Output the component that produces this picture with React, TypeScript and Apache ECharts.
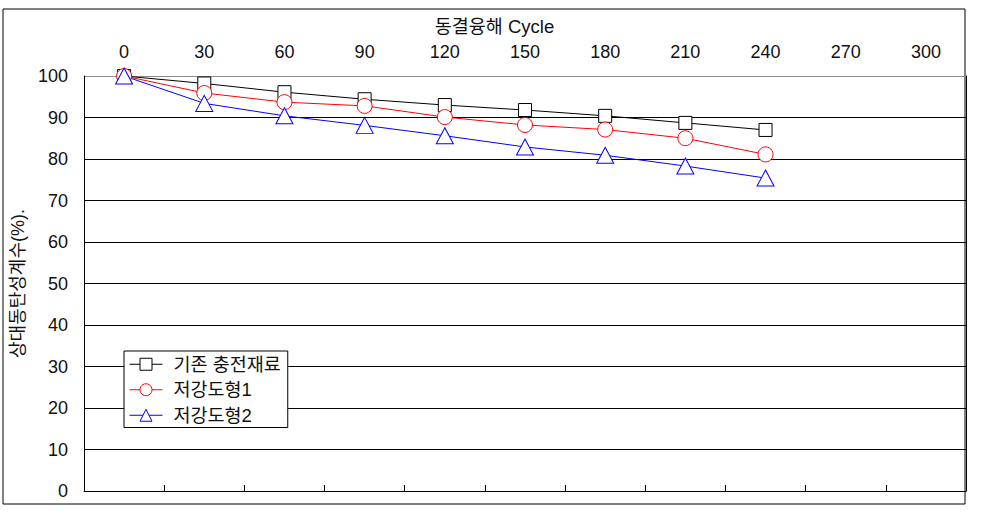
import React, { useEffect, useRef } from 'react';
import * as echarts from 'echarts';

const FONT = "'Liberation Sans', 'Noto Sans CJK KR', sans-serif";

const xTitle = '동결융해 Cycle';
const yTitle = '상대동탄성계수(%).';
const cycles = ['0', '30', '60', '90', '120', '150', '180', '210', '240', '270', '300'];
const seriesNames = ['기존 충전재료', '저강도형1', '저강도형2'];
const existingFill = [100, 98.2, 96.1, 94.4, 93.0, 91.8, 90.4, 88.7, 87.0];
const lowStrength1 = [100, 95.9, 93.7, 92.8, 90.1, 88.2, 87.1, 85.0, 81.1];
const lowStrength2 = [100, 93.4, 90.4, 88.1, 85.6, 82.9, 80.9, 78.3, 75.4];
const yMin = 0;
const yMax = 100;
const yStep = 10;

export default function App() {
  const ref = useRef<HTMLDivElement>(null);

  useEffect(() => {
    document.body.style.margin = '0';
    if (!ref.current) return;
    const chart = echarts.init(ref.current, undefined, { renderer: 'svg' });

    const splitColors: string[] = [];
    for (let v = yMin; v <= yMax; v += yStep) {
      splitColors.push(v === yMax ? '#8c8c8c' : '#000000');
    }

    const mk = (name: string, data: number[], color: string, symbol: string, size: any) => ({
      name,
      type: 'line',
      data,
      xAxisIndex: 0,
      yAxisIndex: 0,
      symbol,
      symbolSize: size,
      showAllSymbol: true,
      lineStyle: { color, width: 1 },
      itemStyle: { color: '#ffffff', borderColor: color, borderWidth: 1 },
      emphasis: { disabled: true },
    });

    chart.setOption({
      animation: false,
      backgroundColor: '#ffffff',
      textStyle: { fontFamily: FONT },
      title: {
        text: xTitle,
        left: 'center',
        top: 12,
        textStyle: { fontSize: 18.5, fontWeight: 'normal', color: '#111', fontFamily: FONT },
      },
      graphic: [
        {
          type: 'rect',
          shape: { x: 3, y: 9, width: 962, height: 495 },
          style: { fill: 'none', stroke: '#000', lineWidth: 1 },
          silent: true,
        },
      ],
      grid: { left: 84, right: 23, top: 76, bottom: 25, containLabel: false },
      legend: {
        orient: 'vertical',
        left: 124,
        top: 351,
        data: seriesNames,
        backgroundColor: '#ffffff',
        borderColor: '#000',
        borderWidth: 1,
        borderRadius: 0,
        padding: [4, 7, 3, 5],
        itemWidth: 33,
        itemHeight: 15,
        itemGap: 7,
        itemStyle: { borderWidth: 1 },
        lineStyle: { width: 1 },
        textStyle: { fontSize: 18.5, color: '#111', fontFamily: FONT, padding: [0, 0, 0, 6] },
      },
      xAxis: [
        {
          type: 'category',
          position: 'top',
          data: cycles,
          boundaryGap: true,
          axisLine: { show: false },
          axisTick: { show: false },
          axisLabel: { fontSize: 18, color: '#111', margin: 15, interval: 0, fontFamily: FONT },
          splitLine: { show: false },
        },
        {
          type: 'category',
          position: 'bottom',
          data: cycles,
          boundaryGap: true,
          axisLine: { show: true, lineStyle: { color: '#000', width: 1 } },
          axisTick: { show: true, inside: true, length: 6, interval: 0, lineStyle: { color: '#000' } },
          axisLabel: { show: false },
          splitLine: { show: false },
        },
      ],
      yAxis: [
        {
          type: 'value',
          min: yMin,
          max: yMax,
          interval: yStep,
          position: 'left',
          name: yTitle,
          nameLocation: 'middle',
          nameGap: 53,
          nameRotate: 90,
          nameTextStyle: { fontSize: 18, color: '#111', fontFamily: FONT },
          axisLine: { show: true, lineStyle: { color: '#000', width: 1 } },
          axisTick: { show: false },
          axisLabel: { fontSize: 18, color: '#111', margin: 16, fontFamily: FONT },
          splitLine: { show: true, lineStyle: { color: splitColors, width: 1 } },
        },
        {
          type: 'value',
          min: yMin,
          max: yMax,
          interval: yStep,
          position: 'right',
          axisLine: { show: true, lineStyle: { color: '#000', width: 1 } },
          axisTick: { show: false },
          axisLabel: { show: false },
          splitLine: { show: false },
        },
      ],
      series: [
        mk(seriesNames[0], existingFill, '#000000', 'rect', 13),
        mk(seriesNames[1], lowStrength1, '#ff0000', 'circle', 15),
        mk(seriesNames[2], lowStrength2, '#0000ff', 'triangle', [17, 16]),
      ],
    });

    return () => chart.dispose();
  }, []);

  return <div ref={ref} style={{ width: 989, height: 516 }} />;
}
